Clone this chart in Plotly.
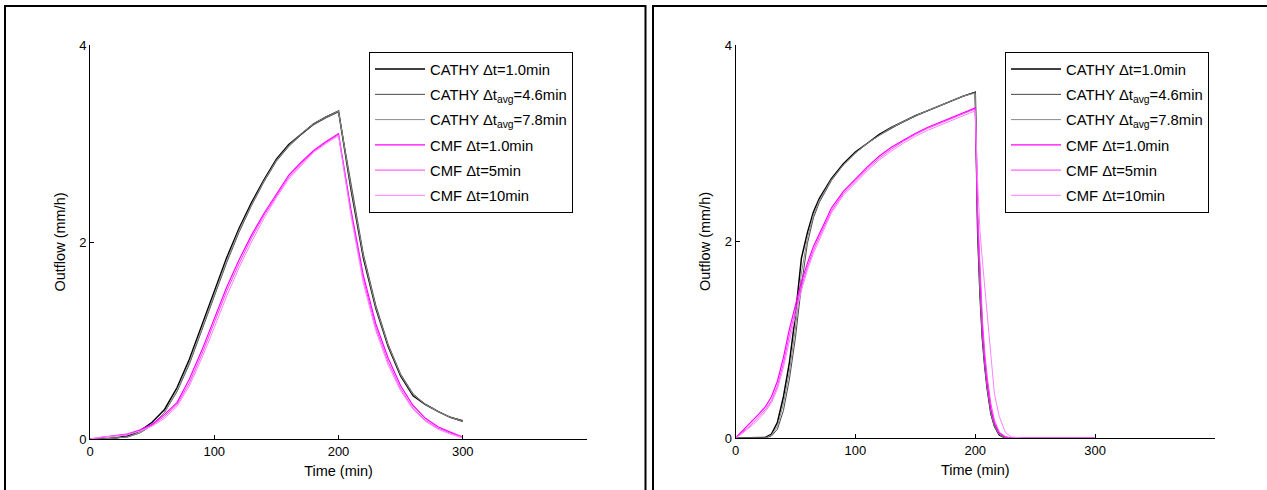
import plotly.graph_objects as go

W, H = 1267, 490

# ---------------- data ----------------
left_time = [0, 10, 20, 30, 40, 50, 60, 70, 80, 90, 100, 110, 120, 130, 140, 150,
             160, 170, 180, 190, 200, 210, 220, 230, 240, 250, 260, 270, 280, 290, 300]

left_cathy_dt1 = [0.00, 0.00, 0.01, 0.03, 0.08, 0.17, 0.30, 0.52, 0.81, 1.15, 1.50, 1.84, 2.14, 2.40, 2.63, 2.84,
                  2.99, 3.10, 3.20, 3.27, 3.33, 2.54, 1.84, 1.33, 0.94, 0.64, 0.44, 0.35, 0.28, 0.22, 0.18]
left_cathy_dt46 = [0.00, 0.00, 0.01, 0.02, 0.06, 0.14, 0.27, 0.48, 0.76, 1.10, 1.45, 1.79, 2.10, 2.37, 2.61, 2.82,
                   2.97, 3.09, 3.19, 3.26, 3.32, 2.58, 1.88, 1.36, 0.96, 0.66, 0.46, 0.35, 0.28, 0.22, 0.19]
left_cathy_dt78 = [0.00, 0.00, 0.01, 0.02, 0.06, 0.14, 0.27, 0.49, 0.78, 1.12, 1.47, 1.81, 2.12, 2.38, 2.62, 2.83,
                   2.98, 3.10, 3.20, 3.27, 3.33, 2.56, 1.86, 1.34, 0.95, 0.65, 0.45, 0.35, 0.28, 0.22, 0.18]
left_cmf_dt1 = [0.00, 0.02, 0.035, 0.05, 0.09, 0.15, 0.25, 0.37, 0.61, 0.90, 1.22, 1.54, 1.82, 2.07, 2.29, 2.49,
                2.68, 2.81, 2.93, 3.02, 3.10, 2.33, 1.66, 1.17, 0.82, 0.54, 0.34, 0.21, 0.125, 0.07, 0.02]
left_cmf_dt5 = [0.00, 0.02, 0.03, 0.05, 0.08, 0.14, 0.23, 0.35, 0.57, 0.86, 1.18, 1.50, 1.78, 2.04, 2.27, 2.47,
                2.66, 2.79, 2.92, 3.01, 3.09, 2.30, 1.62, 1.13, 0.78, 0.51, 0.31, 0.19, 0.11, 0.06, 0.02]
left_cmf_dt10 = [0.00, 0.02, 0.03, 0.04, 0.08, 0.13, 0.21, 0.33, 0.54, 0.82, 1.13, 1.45, 1.74, 2.00, 2.24, 2.45,
                 2.64, 2.78, 2.91, 3.00, 3.08, 2.27, 1.58, 1.10, 0.75, 0.49, 0.30, 0.18, 0.10, 0.05, 0.01]

right_time = [0, 5, 10, 15, 20, 25, 30, 35, 40, 45, 50, 55, 60, 65, 70, 80, 90, 100, 110, 120, 130, 140,
              150, 160, 170, 180, 190, 200, 202, 204, 206, 208, 210, 213, 216, 220, 225, 230, 240, 260, 280, 300]

right_cathy_dt1 = [0, 0, 0, 0, 0, 0.005, 0.04, 0.16, 0.42, 0.77, 1.25, 1.83, 2.09, 2.30, 2.44, 2.64, 2.79, 2.91,
                   3.00, 3.09, 3.16, 3.22, 3.28, 3.33, 3.38, 3.43, 3.48, 3.52, 2.10, 1.45, 1.00, 0.72, 0.50, 0.25,
                   0.12, 0.03, 0, 0, 0, 0, 0, 0]
right_cathy_dt46 = [0, 0, 0, 0, 0, 0, 0.02, 0.09, 0.28, 0.60, 1.02, 1.55, 1.98, 2.24, 2.40, 2.62, 2.78, 2.90,
                    3.00, 3.08, 3.15, 3.22, 3.28, 3.33, 3.38, 3.43, 3.48, 3.52, 2.20, 1.50, 1.05, 0.75, 0.52, 0.27,
                    0.13, 0.04, 0.005, 0, 0, 0, 0, 0]
right_cathy_dt78 = [0, 0, 0, 0, 0, 0, 0.03, 0.12, 0.35, 0.68, 1.12, 1.68, 2.04, 2.27, 2.42, 2.63, 2.78, 2.90,
                    3.00, 3.08, 3.16, 3.22, 3.28, 3.33, 3.38, 3.43, 3.48, 3.51, 2.15, 1.48, 1.02, 0.73, 0.51, 0.26,
                    0.12, 0.035, 0, 0, 0, 0, 0, 0]
right_cmf_dt1 = [0, 0.06, 0.12, 0.18, 0.25, 0.32, 0.42, 0.58, 0.82, 1.11, 1.36, 1.59, 1.78, 1.95, 2.08, 2.34,
                 2.51, 2.64, 2.76, 2.87, 2.96, 3.03, 3.10, 3.16, 3.21, 3.26, 3.31, 3.36, 2.20, 1.55, 1.10, 0.78,
                 0.55, 0.30, 0.15, 0.05, 0.01, 0, 0, 0, 0, 0]
right_cmf_dt5 = [0, 0.05, 0.10, 0.16, 0.22, 0.29, 0.38, 0.53, 0.76, 1.05, 1.30, 1.54, 1.74, 1.91, 2.05, 2.31,
                 2.49, 2.62, 2.74, 2.85, 2.94, 3.02, 3.09, 3.15, 3.20, 3.25, 3.30, 3.35, 2.30, 1.65, 1.20, 0.86,
                 0.62, 0.35, 0.18, 0.06, 0.015, 0, 0, 0, 0, 0]
right_cmf_dt10 = [0, 0.04, 0.09, 0.14, 0.20, 0.27, 0.36, 0.50, 0.72, 1.00, 1.25, 1.50, 1.71, 1.88, 2.02, 2.29,
                  2.47, 2.60, 2.72, 2.83, 2.92, 3.00, 3.07, 3.13, 3.18, 3.23, 3.28, 3.33, 2.60, 2.10, 1.80, 1.55,
                  1.27, 0.85, 0.45, 0.22, 0.06, 0.01, 0, 0, 0, 0]

series_names = ["CATHY \u0394t=1.0min",
                "CATHY \u0394t<sub>avg</sub>=4.6min",
                "CATHY \u0394t<sub>avg</sub>=7.8min",
                "CMF \u0394t=1.0min",
                "CMF \u0394t=5min",
                "CMF \u0394t=10min"]
series_colors = ["#000000", "#4a4a4a", "#8a8a8a", "#ff00ff", "#ff3cff", "#ff80ff"]
series_widths = [1.5, 1.0, 1.0, 1.2, 1.0, 1.0]

x_ticks = [0, 100, 200, 300]
y_ticks = [0, 2, 4]
x_range = [0, 400]
y_range = [0, 4]

FONT = "Liberation Sans, Arial, sans-serif"

fig = go.Figure()

left_sets = [left_cathy_dt1, left_cathy_dt46, left_cathy_dt78, left_cmf_dt1, left_cmf_dt5, left_cmf_dt10]
right_sets = [right_cathy_dt1, right_cathy_dt46, right_cathy_dt78, right_cmf_dt1, right_cmf_dt5, right_cmf_dt10]

for i, ys in enumerate(left_sets):
    fig.add_trace(go.Scatter(x=left_time, y=ys, mode="lines", name=series_names[i],
                             line=dict(color=series_colors[i], width=series_widths[i]),
                             legendgroup="L%d" % i,
                             xaxis="x", yaxis="y", legend="legend"))
for i, ys in enumerate(right_sets):
    fig.add_trace(go.Scatter(x=right_time, y=ys, mode="lines", name=series_names[i],
                             line=dict(color=series_colors[i], width=series_widths[i]),
                             legendgroup="R%d" % i,
                             xaxis="x2", yaxis="y2", legend="legend2"))

def xax(domain, anchor):
    return dict(domain=domain, anchor=anchor, range=x_range, tickvals=x_ticks, automargin=False,
                ticks="inside", ticklen=4, tickcolor="#000", showline=True, linecolor="#000",
                linewidth=1, showgrid=False, zeroline=False, mirror=False,
                tickfont=dict(family=FONT, size=13, color="#000"),
                title=dict(text="Time (min)", font=dict(family=FONT, size=14.5, color="#000"), standoff=8))

def yax(domain, anchor):
    return dict(domain=domain, anchor=anchor, range=y_range, tickvals=y_ticks, automargin=False,
                ticks="inside", ticklen=4, tickcolor="#000", showline=True, linecolor="#000",
                linewidth=1, showgrid=False, zeroline=False, mirror=False,
                tickfont=dict(family=FONT, size=13, color="#000"),
                title=dict(text="Outflow (mm/h)", font=dict(family=FONT, size=14.5, color="#000"), standoff=10))

legend_common = dict(bgcolor="white", bordercolor="#000", borderwidth=1,
                     font=dict(family=FONT, size=14.8, color="#000"),
                     xanchor="left", yanchor="top", tracegroupgap=3, itemwidth=50)

fig.update_layout(
    template="none",
    width=W, height=H, autosize=False,
    margin=dict(l=0, r=0, t=0, b=0, pad=0, autoexpand=False),
    paper_bgcolor="white", plot_bgcolor="white",
    font=dict(family=FONT, color="#000"),
    xaxis=xax([90 / W, 587 / W], "y"),
    yaxis=yax([51 / H, 445 / H], "x"),
    xaxis2=xax([735.5 / W, 1215 / W], "y2"),
    yaxis2=yax([52 / H, 445 / H], "x2"),
    legend=dict(x=369 / W, y=1 - 52 / H, **legend_common),
    legend2=dict(x=1005 / W, y=1 - 52 / H, **legend_common),
    shapes=[
        dict(type="rect", xref="paper", yref="paper", x0=5 / W, x1=645.5 / W, y0=-0.1, y1=1 - 6 / H,
             line=dict(color="#000", width=2), fillcolor="rgba(0,0,0,0)", layer="above"),
        dict(type="rect", xref="paper", yref="paper", x0=653 / W, x1=1.02, y0=-0.1, y1=1 - 6 / H,
             line=dict(color="#000", width=2), fillcolor="rgba(0,0,0,0)", layer="above"),
    ],
)

fig.write_html("out.html", config={"displayModeBar": False},
               post_script="document.body.style.margin='0px';document.body.style.overflow='hidden';")
